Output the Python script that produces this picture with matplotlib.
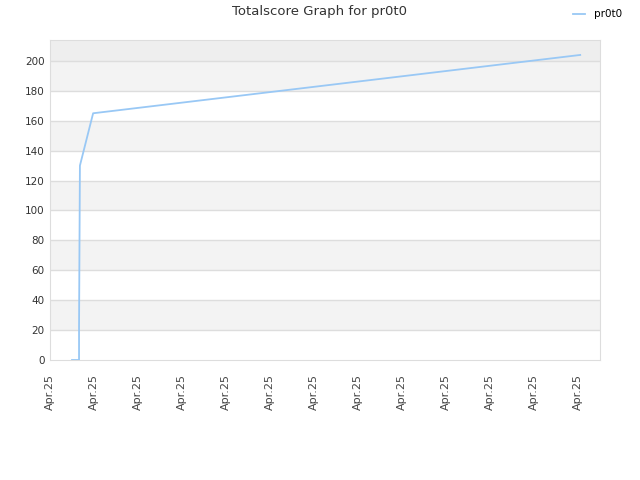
import numpy as np
import matplotlib.pyplot as plt

# Данные: время (в условных единицах шкалы) и суммарный счёт
times = [0.5, 0.66, 0.66, 0.68, 0.98, 12.05]
scores = [0, 0, 22, 130, 165, 204]
tick_pos = list(range(13))
tick_labels = ['Apr.25'] * 13
y_ticks = list(range(0, 201, 20))

fig = plt.figure(figsize=(6.4, 4.8), dpi=100)
ax = fig.add_axes([50 / 640, 120 / 480, 550 / 640, 320 / 480])

ax.set_xlim(0, 12.5)
ax.set_ylim(0, 214)

# полосы фона
for lo in range(20, 200, 40):
    ax.axhspan(lo, lo + 20, color='#f3f3f3', zorder=0, lw=0)
ax.axhspan(200, 214, color='#eeeeee', zorder=0, lw=0)
for yv in y_ticks[1:]:
    ax.axhline(yv, color='#dddddd', lw=1, zorder=1)

ax.plot(times, scores, color='#99c8f5', lw=1.3, label='pr0t0', zorder=3)

ax.set_xticks(tick_pos)
ax.set_xticklabels(tick_labels, rotation=90, fontsize=8, color='#444444')
ax.set_yticks(y_ticks)
ax.set_yticklabels([str(v) for v in y_ticks], fontsize=7.5, color='#333333')
ax.tick_params(axis='y', length=0, pad=4)
ax.tick_params(axis='x', length=0, pad=10)
for s in ax.spines.values():
    s.set_color('#dddddd')

fig.text(0.5, 1 - 12 / 480, 'Totalscore Graph for pr0t0', ha='center', va='center',
         fontsize=9.5, color='#333333')
fig.legend(loc='upper right', bbox_to_anchor=(0.986, 1.0), frameon=False, fontsize=7.5,
           handlelength=1.2)

fig.savefig('out.png', dpi=100)
